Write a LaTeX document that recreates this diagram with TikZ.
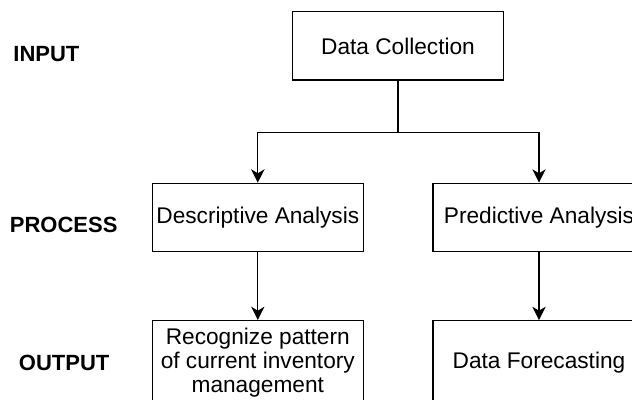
\documentclass[tikz,border=0pt]{standalone}
\usepackage{fontspec}
\setmainfont{Liberation Sans}
\usetikzlibrary{arrows.meta}
\begin{document}
\begin{tikzpicture}[x=0.75pt,y=-0.75pt,
  box/.style={draw, line width=1pt, rectangle, inner sep=0pt, align=center,
    font=\fontsize{17}{18}\selectfont},
  stage/.style={font=\fontsize{16.5}{18}\selectfont\bfseries, inner sep=0pt},
  link/.style={line width=1pt},
  arr/.style={line width=1pt, -{Stealth[length=10pt,width=10pt,inset=3pt]}}]
  \useasboundingbox (0,0) rectangle (633,400);
  \clip (0,0) rectangle (633,400);

  % stage labels on the left
  \node[stage] (lin)  at (46.4,54.5)  {INPUT};
  \node[stage] (lpr)  at (63.7,225.3) {PROCESS};
  \node[stage] (lout) at (64.2,362.8) {OUTPUT};

  % boxes
  \node[box, minimum width=158pt, minimum height=51.2pt] (dc) at (398,45.9) {Data Collection};
  \node[box, minimum width=158.2pt, minimum height=51.3pt] (da) at (257.8,217.5) {Descriptive Analysis};
  \node[box, minimum width=159pt, minimum height=51.3pt] (pa) at (539,217.5) {Predictive Analysis};
  \node[box, minimum width=158.2pt, minimum height=62.7pt] (rp) at (257.8,362.5)
    {Recognize pattern\\of current inventory\\management};
  \node[box, minimum width=159pt, minimum height=62.7pt] (df) at (539,362.5) {Data Forecasting};

  % connectors
  \coordinate (j) at (398,132.5);
  \draw[link] (dc.south) -- (j);
  \draw[arr] (j) -| (da.north);
  \draw[arr] (j) -| (pa.north);
  \draw[arr] (da.south) -- (rp.north);
  \draw[arr] (pa.south) -- (df.north);

  % white strip along the right margin
  \fill[white] (632,0) rectangle (640,400);
\end{tikzpicture}
\end{document}
